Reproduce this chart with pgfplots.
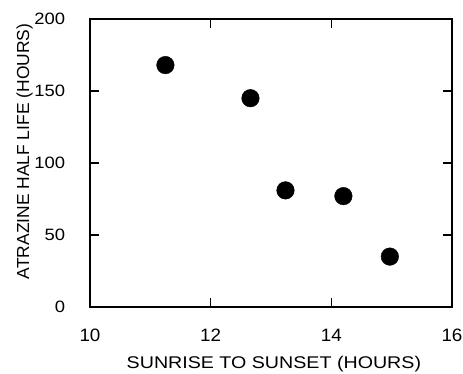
\documentclass[border=0pt]{standalone}
\usepackage{pgfplots}
\pgfplotsset{compat=1.18}
\usepackage{graphicx}
\usepackage{fontspec}
\setmainfont{Liberation Sans}
\begin{document}
\begin{tikzpicture}
\useasboundingbox (-90bp,-67bp) rectangle (373bp,307bp);
\begin{axis}[
  at={(0,0)}, anchor=south west,
  scale only axis,
  width=362bp, height=288bp,
  xmin=10, xmax=16, ymin=0, ymax=200,
  xtick={10,12,14,16}, ytick={0,50,100,150,200},
  tick align=inside,
  major tick length=9bp,
  axis line style={line width=1.4pt},
  every tick/.style={line width=1.3pt, black},
  /pgf/number format/assume math mode=true,
  xticklabel style={font=\fontsize{18}{20}\selectfont, xscale=1.05, inner sep=0pt, anchor=base, yshift=-34.5bp},
  yticklabel style={font=\fontsize{16.5}{18}\selectfont, xscale=1.12, inner sep=0pt, anchor=east, xshift=-22bp},
  xlabel={\fontsize{17}{19}\selectfont\scalebox{1.16}[1]{SUNRISE TO SUNSET (HOURS)}},
  ylabel={\fontsize{17.5}{19}\selectfont ATRAZINE HALF LIFE (HOURS)},
  xlabel style={at={(axis description cs:0.508,-0.215)}, anchor=base, inner sep=0pt},
  ylabel style={at={(axis description cs:-0.1685,0.54)}, anchor=base, inner sep=0pt},
  clip=false,
]
\addplot[only marks, mark=*, mark size=8.8bp, black] coordinates {
  (11.25,168) (12.66,145) (13.24,81) (14.2,77) (14.97,35)
};
\end{axis}
\end{tikzpicture}
\end{document}
